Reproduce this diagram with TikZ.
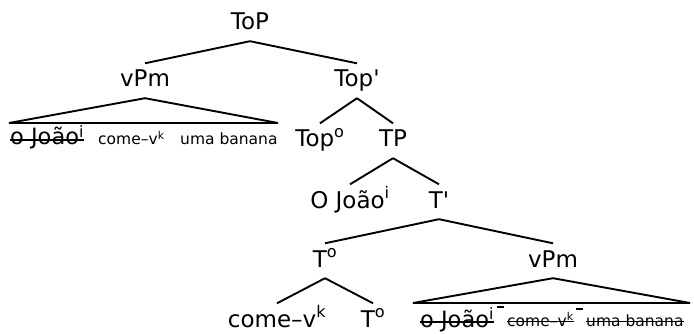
\documentclass[tikz,border=0pt]{standalone}
\usepackage{fontspec}
\setmainfont{DejaVu Sans}[Ligatures=TeXOff]
\tikzset{
  catnode/.style={
    anchor=base, font=\fontsize{23}{27}\selectfont,
    text height=17pt, text depth=4.5pt, inner xsep=1pt, inner ysep=6.5pt
  },
  leafbig/.style={
    anchor=base west, font=\fontsize{22.5}{26}\selectfont, inner sep=0pt
  },
  leafsmall/.style={
    anchor=base west, font=\fontsize{15.5}{18}\selectfont, inner sep=0pt
  },
  branch/.style={
    line width=1.9pt
  },
  strikeline/.style={
    line width=1.3pt
  }
}

\begin{document}
\begin{tikzpicture}[x=1pt, y=-1pt]
  \useasboundingbox (0,0) rectangle (694,334);

  % categories
  \node[catnode] (topP)   at (250,30)  {ToP};
  \node[catnode] (vpmA)   at (145,87)  {vPm};
  \node[catnode] (topBar) at (357,87)  {Top'};
  \node[catnode] (topHd)  at (320,147) {Top\textsuperscript{o}};
  \node[catnode] (tp)     at (393,147) {TP};
  \node[catnode] (subj)   at (350,208) {O João\textsuperscript{i}};
  \node[catnode] (tBar)   at (439,208) {T'};
  \node[catnode] (tHdA)   at (325,267) {T\textsuperscript{o}};
  \node[catnode] (vpmB)   at (553,267) {vPm};
  \node[catnode] (verb)   at (277,327) {come–v\textsuperscript{k}};
  \node[catnode] (tHdB)   at (373,327) {T\textsuperscript{o}};

  % leaves under the two triangles
  \node[leafbig]   (lJoao) at (10,145)  {o João\textsuperscript{i}};
  \node[leafsmall] (lVerb) at (98,145)  {come–v\textsuperscript{k}};
  \node[leafsmall] (lObj)  at (180,145) {uma banana};
  \node[leafbig]   (rJoao) at (420,327) {o João\textsuperscript{i}};
  \node[leafsmall] (rVerb) at (507,326) {come–v\textsuperscript{k}};
  \node[leafsmall] (rObj)  at (586,326) {uma banana};

  \coordinate (lBaseW) at (9,123);
  \coordinate (lBaseE) at (278,123);
  \coordinate (rBaseW) at (413,303);
  \coordinate (rBaseE) at (690,303);

  % branches
  \draw[branch] (topP.south) -- (vpmA.north);
  \draw[branch] (topP.south) -- (topBar.north);
  \draw[branch] (topBar.south) -- (topHd.north);
  \draw[branch] (topBar.south) -- (tp.north);
  \draw[branch] (tp.south) -- (subj.north);
  \draw[branch] (tp.south) -- (tBar.north);
  \draw[branch] (tBar.south) -- (tHdA.north);
  \draw[branch] (tBar.south) -- (vpmB.north);
  \draw[branch] (tHdA.south) -- (verb.north);
  \draw[branch] (tHdA.south) -- (tHdB.north);

  % triangles
  \draw[branch] (vpmA.south) -- (lBaseW) -- (lBaseE) -- cycle;
  \draw[branch] (vpmB.south) -- (rBaseW) -- (rBaseE) -- cycle;

  % struck-out copies
  \draw[strikeline] ([yshift=5pt]lJoao.base west) -- ([yshift=5pt]lJoao.base east);
  \draw[strikeline] ([yshift=5pt]rJoao.base west) -- ([yshift=5pt]rJoao.base east);
  \draw[strikeline] ([yshift=4.5pt]rVerb.base west) -- ([yshift=4.5pt]rVerb.base east);
  \draw[strikeline] ([yshift=4.5pt]rObj.base west) -- ([yshift=4.5pt]rObj.base east);
  \draw[strikeline, shorten <=3pt, shorten >=3pt]
    ([yshift=20pt]rJoao.base east) -- ([yshift=19pt]rVerb.base west);
  \draw[strikeline, shorten <=2pt, shorten >=3pt]
    ([yshift=17pt]rVerb.base east) -- ([yshift=17pt]rObj.base west);
\end{tikzpicture}
\end{document}
